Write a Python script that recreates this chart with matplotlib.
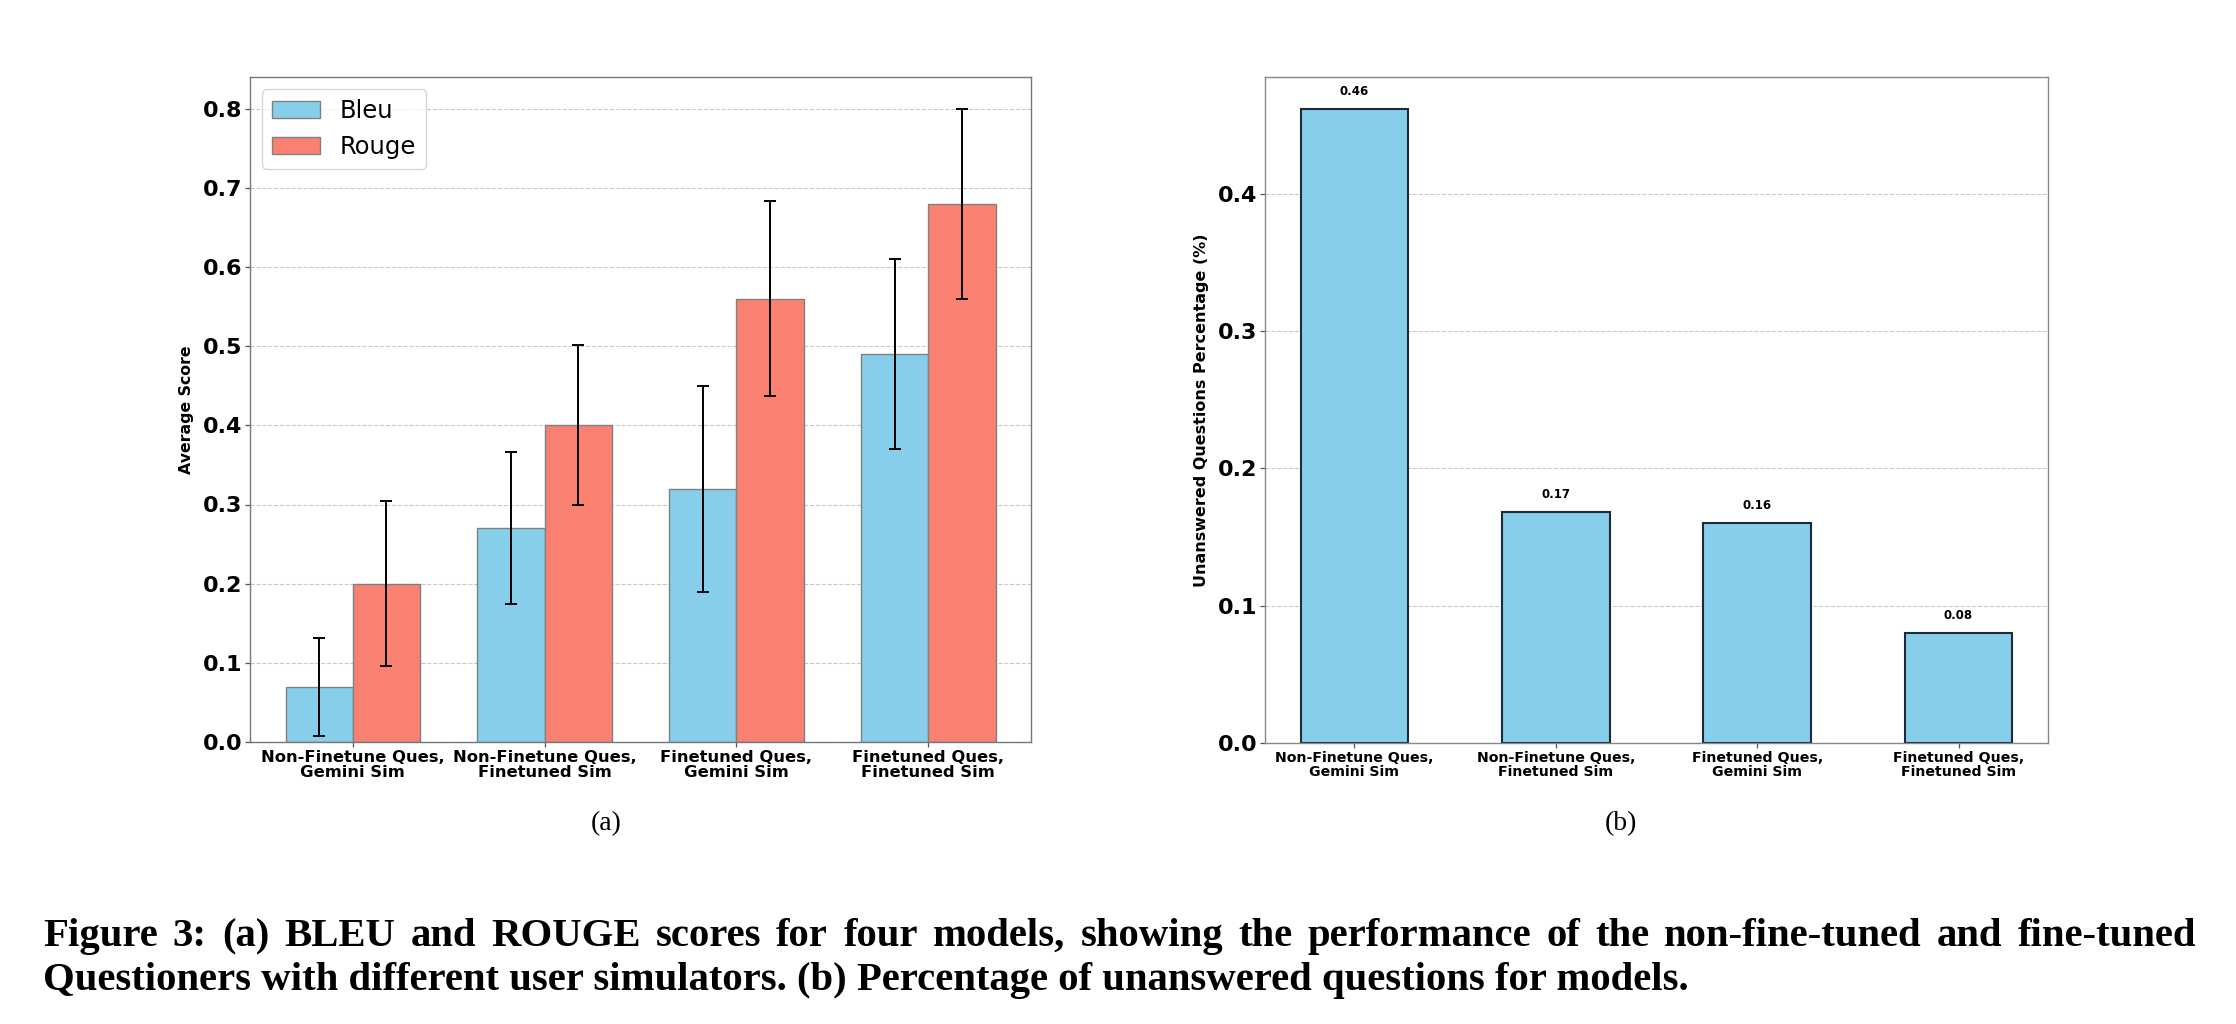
import matplotlib
matplotlib.use("Agg")
import matplotlib.pyplot as plt
import numpy as np

# ---------------- data ----------------
categories = ["Non-Finetune Ques,\nGemini Sim", "Non-Finetune Ques,\nFinetuned Sim",
              "Finetuned Ques,\nGemini Sim", "Finetuned Ques,\nFinetuned Sim"]
bleu = [0.07, 0.27, 0.32, 0.49]
bleu_err = [0.062, 0.096, 0.13, 0.12]
rouge = [0.20, 0.40, 0.56, 0.68]
rouge_err = [0.104, 0.101, 0.123, 0.12]
unanswered = [0.462, 0.168, 0.160, 0.080]
left_yticks = [0.0, 0.1, 0.2, 0.3, 0.4, 0.5, 0.6, 0.7, 0.8]
right_yticks = [0.0, 0.1, 0.2, 0.3, 0.4]
caption_line1 = ("Figure 3: (a) BLEU and ROUGE scores for four models, showing the "
                 "performance of the non-fine-tuned and fine-tuned")
caption_line2 = ("Questioners with different user simulators. (b) Percentage of "
                 "unanswered questions for models.")

W, H = 2236, 1024
fig = plt.figure(figsize=(W / 100, H / 100), dpi=100)
plt.rcParams['font.family'] = ['DejaVu Sans']

# ---------------- left chart ----------------
axL = fig.add_axes([250 / W, 1 - 742 / H, 781 / W, 665 / H])
x = np.arange(len(categories))
bw = 0.35
axL.bar(x - bw / 2, bleu, bw, yerr=bleu_err, color='#87CEEB', edgecolor='grey',
        linewidth=1.0, label='Bleu', capsize=4.5,
        error_kw=dict(elinewidth=1.4, capthick=1.4, ecolor='black'), zorder=2)
axL.bar(x + bw / 2, rouge, bw, yerr=rouge_err, color='#FA8072', edgecolor='grey',
        linewidth=1.0, label='Rouge', capsize=4.5,
        error_kw=dict(elinewidth=1.4, capthick=1.4, ecolor='black'), zorder=2)
axL.set_xticks(x)
axL.set_xticklabels(categories, fontsize=11.8, fontweight='bold', linespacing=1.0)
axL.set_yticks(left_yticks)
axL.set_yticklabels([f"{v:.1f}" for v in left_yticks], fontsize=16, fontweight='bold')
axL.set_ylabel("Average Score", fontsize=11.3, fontweight='bold', labelpad=6)
axL.yaxis.grid(True, linestyle='--', color='#bbbbbb', linewidth=0.8, alpha=0.8, zorder=0)
axL.set_axisbelow(True)
leg = axL.legend(loc='upper left', fontsize=17.5, framealpha=0.8)
for sp in axL.spines.values():
    sp.set_color('#777777')
    sp.set_linewidth(1.0)
axL.tick_params(axis='both', colors='#555555', labelcolor='black', length=3.5, width=0.9, pad=2)

# ---------------- right chart ----------------
axR = fig.add_axes([1265 / W, 1 - 743 / H, 783 / W, 666 / H])
bars = axR.bar(x, unanswered, 0.535, color='#87CEEB', edgecolor='#1c2b38', linewidth=1.5, zorder=2)
for xi, v in zip(x, unanswered):
    axR.text(xi, v + 0.008, f"{v:.2f}", ha='center', va='bottom', fontsize=8.5, fontweight='bold')
axR.set_xticks(x)
axR.set_xticklabels(categories, fontsize=10.2, fontweight='bold', linespacing=1.05)
axR.set_yticks(right_yticks)
axR.set_yticklabels([f"{v:.1f}" for v in right_yticks], fontsize=16, fontweight='bold')
axR.set_ylabel("Unanswered Questions Percentage (%)", fontsize=11.5, fontweight='bold', labelpad=6)
axR.yaxis.grid(True, linestyle='--', color='#bbbbbb', linewidth=0.8, alpha=0.8, zorder=0)
axR.set_axisbelow(True)
for sp in axR.spines.values():
    sp.set_color('#888888')
    sp.set_linewidth(1.0)
axR.tick_params(axis='both', colors='#555555', labelcolor='black', length=3.5, width=0.9, pad=2)

# ---------------- sub-captions ----------------
fig.text(606 / W, 1 - 824 / H, "(a)", ha='center', va='center', fontsize=20,
         family='Liberation Serif')
fig.text(1621 / W, 1 - 824 / H, "(b)", ha='center', va='center', fontsize=20,
         family='Liberation Serif')

# ---------------- figure caption ----------------
renderer = fig.canvas.get_renderer()
cap_kw = dict(family='Liberation Serif', fontweight='bold', va='baseline', ha='left')
probe = fig.text(0, 0, caption_line2, fontsize=20, **cap_kw)
w2 = probe.get_window_extent(renderer).width
probe.remove()
cap_fs = 20 * 1650 / w2

x0, x1 = 43, 2196
words = caption_line1.split(" ")
widths = []
for wd in words:
    t = fig.text(0, 0, wd, fontsize=cap_fs, **cap_kw)
    widths.append(t.get_window_extent(renderer).width)
    t.remove()
gap = (x1 - x0 - sum(widths)) / (len(words) - 1)
cx = x0
for wd, wdt in zip(words, widths):
    fig.text(cx / W, 1 - 946 / H, wd, fontsize=cap_fs, **cap_kw)
    cx += wdt + gap
fig.text(x0 / W, 1 - 990 / H, caption_line2, fontsize=cap_fs, **cap_kw)

fig.savefig("out.png", dpi=100, facecolor='white')
